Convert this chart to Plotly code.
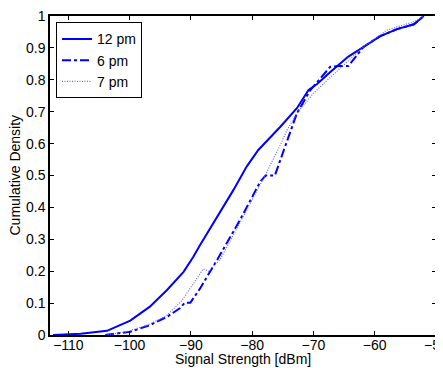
import plotly.graph_objects as go

x_12pm = [-112.5, -108, -103.7, -99.9, -96.7, -93.9, -91.2, -89.6, -88.5, -85.0, -83.05, -80.9, -79.0, -75.4, -72.7, -70.8, -69.4, -67.2, -64.3, -61.8, -59.1, -56.35, -53.6, -52.0]
y_12pm = [0.0, 0.004, 0.013, 0.045, 0.089, 0.141, 0.198, 0.245, 0.282, 0.392, 0.455, 0.528, 0.58, 0.653, 0.711, 0.768, 0.787, 0.825, 0.873, 0.903, 0.937, 0.959, 0.974, 1.0]

x_6pm = [-104, -99.9, -96.7, -93.9, -91.8, -91.0, -90.1, -88.5, -85.8, -82.0, -78.7, -77.8, -76.3, -74.3, -72.7, -70.5, -67.25, -65.6, -64.3, -61.8, -59.1, -56.35, -53.6, -52.0]
y_6pm = [0.0, 0.01, 0.031, 0.057, 0.084, 0.101, 0.101, 0.146, 0.233, 0.36, 0.48, 0.50, 0.50, 0.611, 0.695, 0.768, 0.841, 0.843, 0.843, 0.904, 0.937, 0.959, 0.974, 1.0]

x_7pm = [-104, -100.5, -97, -94, -91.5, -88.0, -87.1, -85.2, -81.5, -77.9, -75.4, -74.3, -72.7, -70.0, -68.3, -65.1, -61.8, -58.0, -53.6, -52.0]
y_7pm = [0.0, 0.01, 0.032, 0.06, 0.107, 0.207, 0.2, 0.238, 0.37, 0.50, 0.596, 0.643, 0.695, 0.758, 0.789, 0.846, 0.904, 0.956, 0.982, 1.0]

x_ticks = [-110, -100, -90, -80, -70, -60, -50]
x_labels = ["\u2212110", "\u2212100", "\u221290", "\u221280", "\u221270", "\u221260", "\u221250"]
y_ticks = [0, 0.1, 0.2, 0.3, 0.4, 0.5, 0.6, 0.7, 0.8, 0.9, 1]
y_labels = ["0", "0.1", "0.2", "0.3", "0.4", "0.5", "0.6", "0.7", "0.8", "0.9", "1"]

x_title = "Signal Strength [dBm]"
y_title = "Cumulative Density"

FAM = "Liberation Sans, Arial, sans-serif"
font = dict(family=FAM, size=14, color="black")

fig = go.Figure()
fig.add_trace(go.Scatter(x=x_12pm, y=y_12pm, mode="lines", name="12 pm",
                         line=dict(color="#0000ff", width=2, dash="solid")))
fig.add_trace(go.Scatter(x=x_6pm, y=y_6pm, mode="lines", name="6 pm",
                         line=dict(color="#0000ff", width=2, dash="dashdot")))
fig.add_trace(go.Scatter(x=x_7pm, y=y_7pm, mode="lines", name="7 pm",
                         line=dict(color="#6868ff", width=1.2, dash="1px,1.5px")))

# the page body adds an 8px offset, so the figure is sized 8px smaller
fig.update_layout(
    width=435, height=360,
    margin=dict(l=42, r=7, t=8, b=33),
    paper_bgcolor="white", plot_bgcolor="white",
    font=font,
    showlegend=True,
    legend=dict(x=0.0155, y=0.98, xanchor="left", yanchor="top",
                bordercolor="black", borderwidth=1, bgcolor="white",
                font=dict(family=FAM, size=14, color="black"),
                tracegroupgap=0, itemwidth=30),
    annotations=[
        dict(text=x_title, xref="paper", yref="paper", x=0.5, y=0,
             xanchor="center", yanchor="middle", yshift=-24, showarrow=False,
             font=font),
        dict(text=y_title, xref="paper", yref="paper", x=0, y=0.5,
             xanchor="center", yanchor="middle", xshift=-36, textangle=-90,
             showarrow=False, font=font),
    ],
)
fig.update_xaxes(range=[-113, -49.995], tickvals=x_ticks, ticktext=x_labels,
                 ticks="inside", ticklen=4, tickcolor="black", tickwidth=1,
                 showline=True, linecolor="black", linewidth=1.5, mirror="ticks",
                 showgrid=False, zeroline=False, automargin=False,
                 ticklabeloverflow="allow", ticklabelstandoff=-4,
                 tickfont=font)
fig.update_yaxes(range=[0, 1.0001], tickvals=y_ticks, ticktext=y_labels,
                 ticks="inside", ticklen=4, tickcolor="black", tickwidth=1,
                 showline=True, linecolor="black", linewidth=1.5, mirror="ticks",
                 showgrid=False, zeroline=False, automargin=False,
                 ticklabeloverflow="allow",
                 tickfont=font)

fig.write_html("out.html")
